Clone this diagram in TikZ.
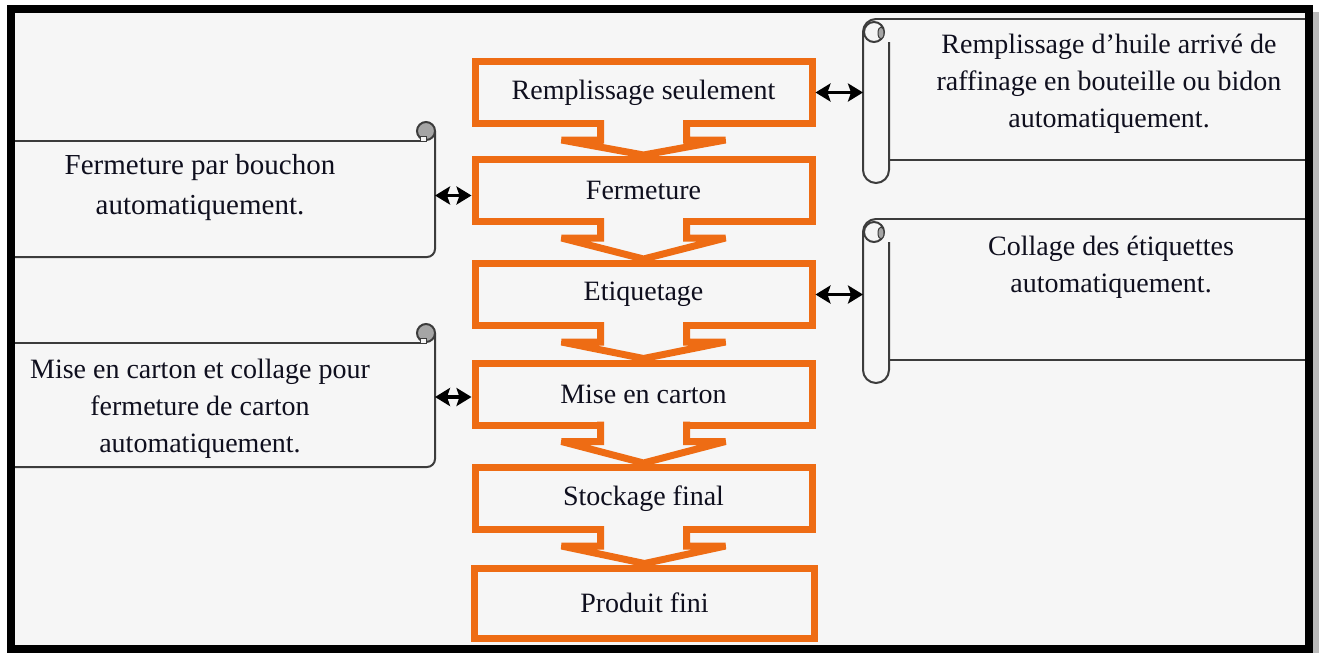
\documentclass[tikz,border=0pt]{standalone}
\usepackage{fontspec}
\setmainfont{Liberation Serif}
\usetikzlibrary{arrows.meta,calc}
\definecolor{org}{RGB}{238,108,20}
\definecolor{bgc}{RGB}{246,246,246}
\definecolor{scr}{RGB}{60,60,60}
\definecolor{txt}{RGB}{15,15,30}
\definecolor{curl}{RGB}{165,165,165}
\newcommand{\flowarrow}[2]{%
  \fill[bgc] ($(#1.south)+(-43,-7)$) -- ($(#1.south)+(-43,13)$) -- ($(#1.south)+(-82,13)$) -- ($(#2.north)+(0,-1)$) -- ($(#1.south)+(82,13)$) -- ($(#1.south)+(43,13)$) -- ($(#1.south)+(43,-7)$) -- cycle;
  \draw[flow] ($(#1.south)+(-43,-7)$) -- ($(#1.south)+(-43,13)$) -- ($(#1.south)+(-82,13)$) -- ($(#2.north)+(0,-1)$) -- ($(#1.south)+(82,13)$) -- ($(#1.south)+(43,13)$) -- ($(#1.south)+(43,-7)$);}
\newcommand{\leftscroll}[1]{%
  \draw[scrl] (#1.north west) -- ($(#1.north east)+(-9,0)$);
  \draw[scrl] ($(#1.north east)+(0,-10)$) [rounded corners=8pt] -- (#1.south east) -- (#1.south west);
  \draw[scrl, fill=curl] ($(#1.north east)+(-9,-10)$) circle[radius=9pt];
  \draw[scrl, line width=1pt, fill=bgc] ($(#1.north east)+(-15,-5)$) rectangle ($(#1.north east)+(-9,0)$);}
\newcommand{\rightscroll}[1]{%
  \draw[scrl] ($(#1.north west)+(13,0)$) -- (#1.north east);
  \draw[scrl, rounded corners=13pt] ($(#1.north west)+(13,0)$) -- (#1.north west) -- (#1.south west) -- ($(#1.south west)+(26,0)$) -- ($(#1.north west)+(26,23)$);
  \draw[scrl] ($(#1.south west)+(26,-23)$) -- ($(#1.south east)+(0,-23)$);
  \draw[scrl] ($(#1.north west)+(11,13)$) circle[radius=10pt];
  \draw[scrl, line width=1pt, fill=curl] ($(#1.north west)+(18,14)$) ellipse[x radius=3pt, y radius=6pt];}
\begin{document}
\begin{tikzpicture}[x=1pt,y=-1pt,
  stepbox/.style={draw=org, line width=7pt, fill=bgc, minimum width=337pt, minimum height=62pt, inner sep=0pt, font=\fontsize{28}{34}\selectfont, text=txt},
  note/.style={align=center, font=\fontsize{28}{37}\selectfont, text=txt, inner sep=0pt},
  scrl/.style={draw=scr, line width=2pt},
  area/.style={inner sep=0pt, outer sep=0pt, draw=none},
  dbl/.style={{Stealth[length=15pt,width=18pt,inset=3pt]}-{Stealth[length=15pt,width=18pt,inset=3pt]}, line width=3.5pt, black},
  flow/.style={draw=org, line width=7pt, line join=miter, miter limit=3}]
\useasboundingbox (0,0) rectangle (1319,653);
\fill[white] (0,0) rectangle (1319,653);
\fill[bgc] (11,9) rectangle (1309,649);
% scroll areas
\node[area, minimum width=420pt, minimum height=116pt] (ls1) at (225,199) {};
\node[area, minimum width=420pt, minimum height=124pt] (ls2) at (225,405) {};
\node[area, minimum width=443pt, minimum height=164pt] (rs1) at (1084.5,101) {};
\node[area, minimum width=443pt, minimum height=164pt] (rs2) at (1084.5,301) {};
\leftscroll{ls1}
\leftscroll{ls2}
\rightscroll{rs1}
\rightscroll{rs2}
% process boxes
\node[stepbox] (b1) at (643.5,92.5) {Remplissage seulement};
\node[stepbox] (b2) at (643.5,190.5) {Fermeture};
\node[stepbox] (b3) at (643.5,294.5) {Etiquetage};
\node[stepbox] (b4) at (643.5,394) {Mise en carton};
\node[stepbox] (b5) at (643.5,498.5) {Stockage final};
\node[stepbox, minimum width=340pt, minimum height=70pt] (b6) at (644.5,603) {Produit fini};
\flowarrow{b1}{b2}
\flowarrow{b2}{b3}
\flowarrow{b3}{b4}
\flowarrow{b4}{b5}
\flowarrow{b5}{b6}
% texts
\node[note] (t1) at (1109,84) {Remplissage d’huile arrivé de\\raffinage en bouteille ou bidon\\automatiquement.};
\node[note] (t2) at (1111,267) {Collage des étiquettes\\automatiquement.};
\node[note, font=\fontsize{29}{40}\selectfont] (t3) at (200,188) {Fermeture par bouchon\\automatiquement.};
\node[note] (t4) at (200,409) {Mise en carton et collage pour\\fermeture de carton\\automatiquement.};
% connectors
\draw[dbl] ($(ls1.east |- b2.west)+(0,5)$) -- ($(b2.west)+(0,5)$);
\draw[dbl] ($(ls2.east |- b4.west)+(0,3)$) -- ($(b4.west)+(0,3)$);
\draw[dbl] (b1.east) -- (rs1.west |- b1.east);
\draw[dbl] (b3.east) -- (rs2.west |- b3.east);
% frame
\fill[gray!55] (1313,12) rectangle (1319,653);
\draw[line width=8pt, black] (11,9) rectangle (1309,649);
\end{tikzpicture}
\end{document}
